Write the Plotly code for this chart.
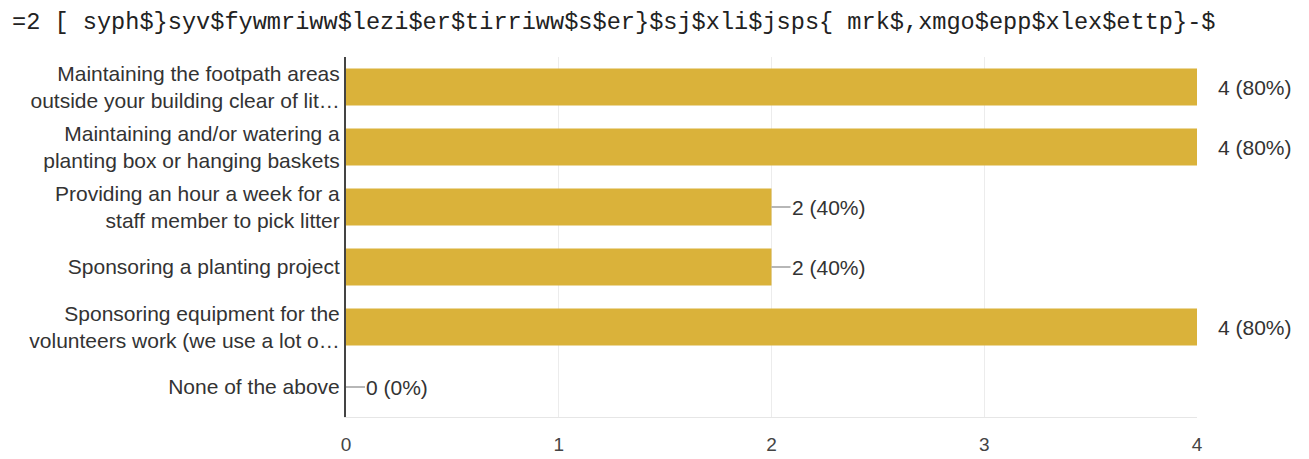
import plotly.graph_objects as go

title_text = "=2 [ syph$}syv$fywmriww$lezi$er$tirriww$s$er}$sj$xli$jsps{ mrk$,xmgo$epp$xlex$ettp}-$"
categories = [
    "Maintaining the footpath areas<br>outside your building clear of lit…",
    "Maintaining and/or watering a<br>planting box or hanging baskets",
    "Providing an hour a week for a<br>staff member to pick litter",
    "Sponsoring a planting project",
    "Sponsoring equipment for the<br>volunteers work (we use a lot o…",
    "None of the above",
]
counts = [4, 4, 2, 2, 4, 0]
percents = [80, 80, 40, 40, 80, 0]
tick_vals = [0, 1, 2, 3, 4]

bar_color = "#dab23a"
text_color = "#333333"
font_family = "Liberation Sans, Arial"

fig = go.Figure()
fig.add_trace(go.Bar(
    y=categories, x=counts, orientation="h",
    marker=dict(color=bar_color, line=dict(width=0)),
    width=0.62, hoverinfo="skip",
))

max_v = max(counts)
for cat, c, p in zip(categories, counts, percents):
    fig.add_annotation(
        x=c, y=cat, xref="x", yref="y",
        text=f"{c} ({p}%)",
        showarrow=True, arrowhead=0, arrowwidth=1.5,
        arrowcolor="#a0a0a0" if c < max_v else "rgba(0,0,0,0)",
        ax=19 if c < max_v else 20, ay=0, xanchor="left", yanchor="middle",
        borderpad=0,
        font=dict(family=font_family, size=21, color=text_color),
    )

fig.update_layout(
    width=1309, height=459,
    margin=dict(l=338, r=120, t=49, b=47),
    paper_bgcolor="white", plot_bgcolor="white",
    showlegend=False,
    title=dict(
        text=title_text, x=4 / 1309, xanchor="left", xref="container",
        y=1 - 13 / 459, yanchor="middle", yref="container",
        font=dict(family="Liberation Mono, Courier New", size=23.6, color="#222222"),
    ),
    font=dict(family=font_family, size=21, color=text_color),
)
fig.update_xaxes(
    range=[0, 4], tickvals=tick_vals, showgrid=True, gridcolor="#ececec", gridwidth=1,
    zeroline=False, showline=True, linecolor="#e6e6e6", linewidth=1, ticks="",
    ticklabelstandoff=10,
    tickfont=dict(family=font_family, size=19, color="#444444"),
)
fig.update_yaxes(
    autorange="reversed", showline=True, linecolor="#444444", linewidth=2,
    showgrid=False, ticks="", ticklabelstandoff=0,
    tickfont=dict(family=font_family, size=21, color=text_color),
)

fig.write_html("out.html")
